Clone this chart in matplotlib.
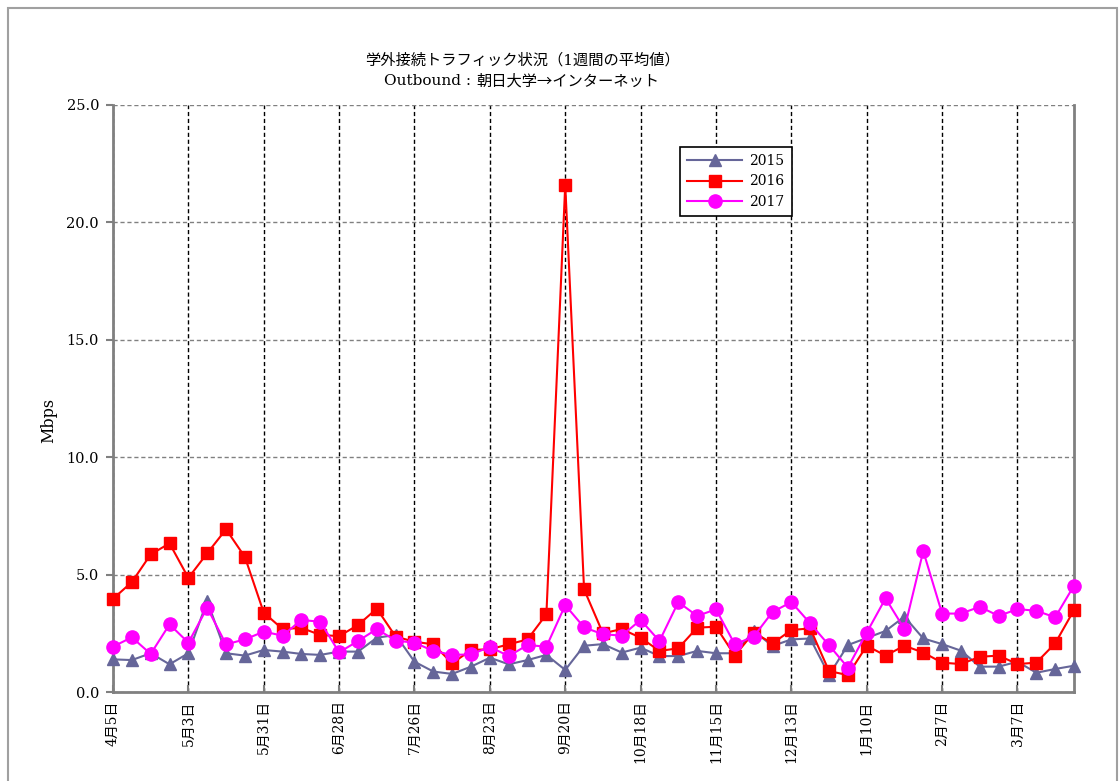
import numpy as np
import matplotlib.pyplot as plt
from matplotlib.patches import Rectangle

plt.rcParams['font.family'] = ['DejaVu Serif', 'Noto Sans CJK JP', 'DejaVu Sans']

# ===================== データ (Mbps, 週平均) =====================
weeks = np.arange(52)
tick_labels = ["4月5日", "5月3日", "5月31日", "6月28日", "7月26日", "8月23日",
               "9月20日", "10月18日", "11月15日", "12月13日", "1月10日",
               "2月7日", "3月7日"]

y2015 = [1.39, 1.36, 1.65, 1.18, 1.65, 3.88, 1.65, 1.55, 1.79, 1.72,
         1.62, 1.58, 1.72, 1.72, 2.31, 2.43, 1.29, 0.87, 0.77, 1.08,
         1.46, 1.18, 1.36, 1.58, 0.94, 1.97, 2.04, 1.68, 1.89, 1.53,
         1.53, 1.75, 1.65, 1.65, 2.60, 1.96, 2.24, 2.28, 0.72, 2.00,
         2.30, 2.60, 3.21, 2.28, 2.04, 1.76, 1.08, 1.08, 1.29, 0.82,
         0.98, 1.12]

y2016 = [3.97, 4.68, 5.86, 6.33, 4.86, 5.91, 6.93, 5.75, 3.38, 2.68,
         2.73, 2.43, 2.38, 2.85, 3.55, 2.36, 2.14, 2.03, 1.22, 1.79,
         1.82, 2.03, 2.24, 3.31, 21.60, 4.37, 2.50, 2.68, 2.31, 1.75,
         1.86, 2.74, 2.78, 1.55, 2.53, 2.07, 2.64, 2.71, 0.89, 0.72,
         1.97, 1.55, 1.97, 1.68, 1.25, 1.19, 1.50, 1.55, 1.19, 1.25,
         2.07, 3.49]

y2017 = [1.93, 2.33, 1.62, 2.88, 2.10, 3.59, 2.03, 2.24, 2.57, 2.40,
         3.07, 2.99, 1.69, 2.17, 2.68, 2.19, 2.10, 1.75, 1.58, 1.60,
         1.92, 1.53, 2.00, 1.93, 3.70, 2.75, 2.46, 2.40, 3.07, 2.17,
         3.83, 3.24, 3.52, 2.03, 2.36, 3.41, 3.83, 2.92, 1.99, 1.04,
         2.53, 3.99, 2.68, 6.00, 3.34, 3.34, 3.63, 3.24, 3.53, 3.46,
         3.18, 4.53]

# ===================== グラフ =====================
fig = plt.figure(figsize=(11.19, 7.81), dpi=100)
ax = fig.add_axes([113/1119, 89/781, 961/1119, 587/781])

ax.plot(weeks, y2015, color='#666699', marker='^', ms=8, lw=1.5, label='2015',
        zorder=3, clip_on=False)
ax.plot(weeks, y2016, color='#FF0000', marker='s', ms=8.5, lw=1.5, label='2016',
        zorder=4, clip_on=False)
ax.plot(weeks, y2017, color='#FF00FF', marker='o', ms=9.5, lw=1.5, label='2017',
        zorder=5, clip_on=False)

ax.set_xlim(0, 51)
ax.set_ylim(0, 25)
ax.set_yticks(np.arange(0, 26, 5))
ax.set_yticklabels([f"{v:.1f}" for v in np.arange(0, 26, 5)], fontsize=10.5)
ax.set_xticks(np.arange(0, 52, 4))
ax.set_xticklabels(tick_labels, rotation=90, fontsize=10)
ax.tick_params(axis='y', direction='out', length=5, color='#808080', width=1.5, pad=5)
ax.tick_params(axis='x', direction='in', length=5, color='#808080', width=1.5, pad=6)

# グリッド
ax.yaxis.grid(True, linestyle=(0, (3, 2)), color='#808080', lw=1)
ax.xaxis.grid(True, linestyle=(0, (3, 2)), color='black', lw=1)
ax.set_axisbelow(True)

ax.spines['top'].set_visible(False)
for s in ['left', 'bottom', 'right']:
    ax.spines[s].set_color('#808080')
    ax.spines[s].set_linewidth(2)

ax.set_ylabel("Mbps", fontsize=11.5)
ax.yaxis.set_label_coords(-0.058, 0.463)

leg = ax.legend(loc='upper left', bbox_to_anchor=(0.59, 0.928), borderaxespad=0,
                fontsize=10, fancybox=False, framealpha=1, edgecolor='black',
                handlelength=4.0, borderpad=0.5, labelspacing=0.45,
                handletextpad=0.5)
leg.get_frame().set_linewidth(1.2)

# タイトル (2行目は矢印を全角で出すため分けて描く)
fig.text(523/1119, 1 - 60/781, "学外接続トラフィック状況（1週間の平均値）",
         ha='center', va='center', fontsize=11)
fig.text(471/1119, 1 - 81/781, "Outbound :",
         ha='right', va='center', fontsize=11)
fig.text(476/1119, 1 - 81/781, "朝日大学→インターネット",
         ha='left', va='center', fontsize=11, family='Noto Sans CJK JP')

# 外枠
fig.patches.append(Rectangle((8/1119, -0.05), 1109/1119, 1.05 - 8/781,
                             transform=fig.transFigure, fill=False,
                             edgecolor='#A0A0A0', lw=1.5))

fig.savefig("out.png", dpi=100)
